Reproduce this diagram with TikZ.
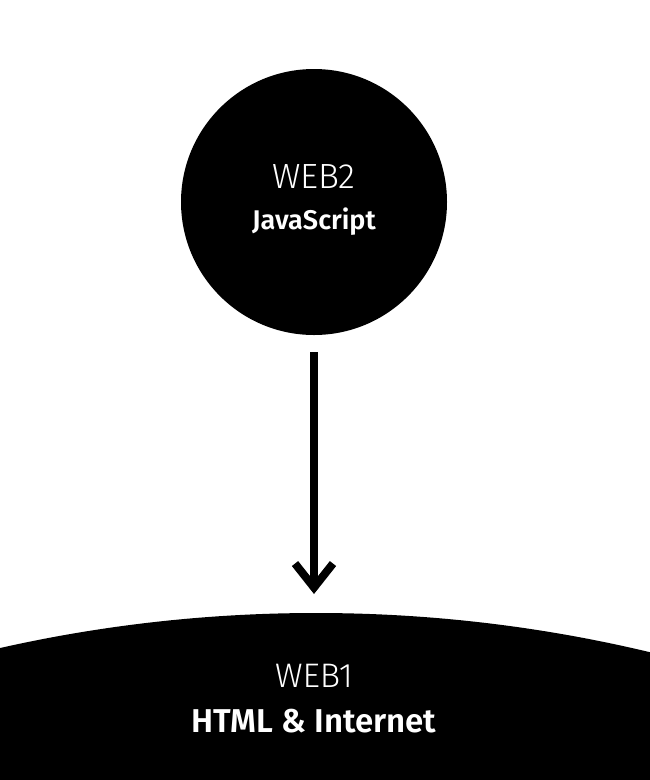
\documentclass[tikz,border=0pt]{standalone}
\usepackage{fontspec}
\setmainfont{Fira Sans}
\newfontfamily\weblight{Fira Sans Light}
\newfontfamily\webbold{Fira Sans SemiBold}
\usetikzlibrary{arrows.meta,positioning}

\begin{document}
\begin{tikzpicture}[x=1pt,y=-1pt,>=Latex]
\useasboundingbox (0,0) rectangle (650,780);
% ground layer
\begin{scope}
\clip (0,0) rectangle (650,780);
\fill[black] (316,2043) circle[radius=1430];
\end{scope}
\node[circle,fill=black,minimum size=266pt,inner sep=0pt] (web2) at (314,202) {};
\node[anchor=base,text=white,inner sep=0pt,font=\weblight\fontsize{35}{40}\selectfont] (web2title) at (314,188) {WEB2};
\node[anchor=base,text=white,inner sep=0pt,font=\webbold\fontsize{27}{32}\selectfont] (web2lang) at (314,229) {JavaScript};
\node[anchor=base,text=white,inner sep=0pt,font=\weblight\fontsize{34}{40}\selectfont] (web1title) at (314,687) {WEB1};
\node[anchor=base,text=white,inner sep=0pt,font=\webbold\fontsize{33}{38}\selectfont] (web1lang) at (314,732) {HTML \& Internet};
\coordinate (ground) at (314,594);
\draw[line width=8pt,-{Straight Barb[length=24pt,width=38pt]}] ([yshift=-17pt]web2.south) -- (ground);
\end{tikzpicture}
\end{document}
